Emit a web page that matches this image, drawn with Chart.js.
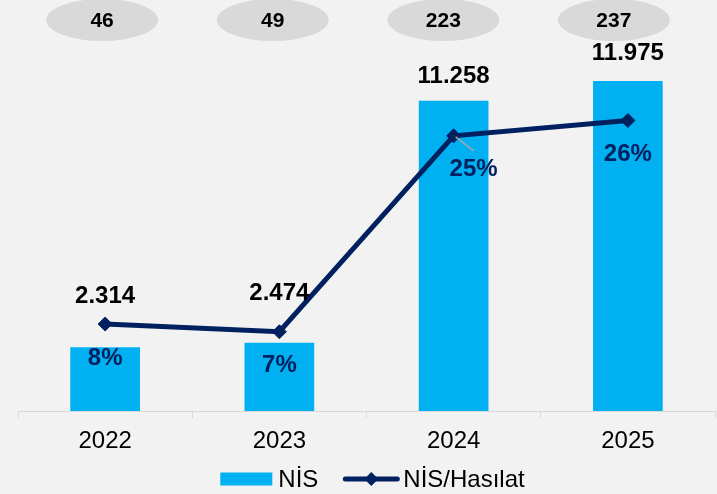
<!DOCTYPE html>
<html><head><meta charset="utf-8">
<script src="https://cdn.jsdelivr.net/npm/chart.js@4.4.1/dist/chart.umd.min.js"></script>
<style>html,body{margin:0;padding:0;background:#f2f2f2;} canvas{display:block;}</style>
</head><body>
<canvas id="c" width="717" height="494"></canvas>
<script>
// ---- data ----
const categories = ['2022', '2023', '2024', '2025'];
const nisValues = [2314, 2474, 11258, 11975];
const ratioValues = [7.9, 7.2, 25.0, 26.4];
const ratioLabels = ['8%', '7%', '25%', '26%'];
const topBadges = [46, 49, 223, 237];
const legendLabels = ['NİS', 'NİS/Hasılat'];

// ---- styles ----
const CYAN = '#00b0f0', NAVY = '#002060', BG = '#f2f2f2';
const FONT = '"Liberation Sans", Arial, sans-serif';

function fmt(v) { return String(v).replace(/\B(?=(\d{3})+(?!\d))/g, '.'); }

const deco = {
  id: 'deco',
  beforeDraw(chart) {
    const ctx = chart.ctx;
    ctx.save(); ctx.fillStyle = BG; ctx.fillRect(0, 0, chart.width, chart.height); ctx.restore();
  },
  afterDatasetsDraw(chart) {
    const ctx = chart.ctx, xs = chart.scales.x;
    const barMeta = chart.getDatasetMeta(0), lineMeta = chart.getDatasetMeta(1);
    ctx.save();
    ctx.textAlign = 'center'; ctx.textBaseline = 'middle';
    // top badges
    topBadges.forEach((b, i) => {
      const cx = xs.getPixelForValue(i) * 0.979 - 0.8;
      ctx.fillStyle = '#d9d9d9';
      ctx.beginPath(); ctx.ellipse(cx, 20, 56, 21, 0, 0, Math.PI * 2); ctx.fill();
      ctx.fillStyle = '#000'; ctx.font = 'bold 21px ' + FONT;
      ctx.fillText(String(b), cx, 21);
    });
    // value labels
    const nudges = [0, -10, 4, 0];
    nisValues.forEach((v, i) => {
      const bar = barMeta.data[i], pt = lineMeta.data[i];
      const y = Math.min(bar.y, pt.y) - 28 + nudges[i];
      ctx.fillStyle = '#000'; ctx.font = 'bold 24px ' + FONT;
      ctx.fillText(fmt(v), bar.x, y);
    });
    // percentage labels
    ratioLabels.forEach((t, i) => {
      const pt = lineMeta.data[i];
      let dx = 0;
      if (i === 2) {
        dx = 20;
        ctx.strokeStyle = '#a6a6a6'; ctx.lineWidth = 1.5;
        ctx.beginPath(); ctx.moveTo(pt.x + 2, pt.y + 1); ctx.lineTo(pt.x + 20, pt.y + 15); ctx.stroke();
      }
      ctx.fillStyle = NAVY; ctx.font = 'bold 24px ' + FONT;
      ctx.fillText(t, pt.x + dx, pt.y + 34);
    });
    ctx.restore();
  },
  afterDraw(chart) {
    const ctx = chart.ctx;
    ctx.save();
    ctx.font = '24px ' + FONT; ctx.textBaseline = 'middle'; ctx.textAlign = 'left';
    const w1 = ctx.measureText(legendLabels[0]).width, w2 = ctx.measureText(legendLabels[1]).width;
    const total = 52 + 6 + w1 + 25 + 56 + 4 + w2;
    const ca = chart.chartArea;
    let x = (ca.left + ca.right) / 2 - total / 2 + 6;
    const y = 479;
    ctx.fillStyle = CYAN; ctx.fillRect(x, y - 6.5, 52, 13);
    x += 58;
    ctx.fillStyle = '#000'; ctx.fillText(legendLabels[0], x, y + 1);
    x += w1 + 25;
    ctx.strokeStyle = NAVY; ctx.lineWidth = 5; ctx.lineCap = 'round';
    ctx.beginPath(); ctx.moveTo(x + 2, y); ctx.lineTo(x + 54, y); ctx.stroke();
    ctx.fillStyle = NAVY; ctx.beginPath();
    ctx.moveTo(x + 28, y - 7); ctx.lineTo(x + 35, y); ctx.lineTo(x + 28, y + 7); ctx.lineTo(x + 21, y); ctx.closePath(); ctx.fill();
    x += 60;
    ctx.fillStyle = '#000'; ctx.fillText(legendLabels[1], x, y + 1);
    ctx.restore();
  }
};

new Chart(document.getElementById('c'), {
  data: {
    labels: categories,
    datasets: [
      { type: 'bar', label: legendLabels[0], data: nisValues, backgroundColor: CYAN, yAxisID: 'y', order: 2,
        barPercentage: 0.4, categoryPercentage: 1 },
      { type: 'line', label: legendLabels[1], data: ratioValues, borderColor: NAVY, borderWidth: 5, tension: 0,
        pointStyle: 'rectRot', pointRadius: 7, pointBackgroundColor: NAVY, pointBorderColor: NAVY, pointBorderWidth: 1,
        yAxisID: 'y1', order: 1 }
    ]
  },
  options: {
    responsive: false, animation: false,
    layout: { autoPadding: false, padding: { top: 39, bottom: 40, left: 18, right: 2 } },
    plugins: { legend: { display: false }, tooltip: { enabled: false } },
    scales: {
      x: {
        afterFit(s) { s.height = 43; },
        grid: { display: true, drawOnChartArea: false, drawTicks: true, tickLength: 7, color: '#d9d9d9', offset: true },
        border: { display: true, color: '#d9d9d9', width: 1 },
        ticks: { color: '#000', font: { family: FONT, size: 24 }, padding: 9 }
      },
      y: { display: false, min: 0, max: 13500 },
      y1: { display: false, min: 0, max: 33.8 }
    }
  },
  plugins: [deco]
});
</script>
</body></html>
